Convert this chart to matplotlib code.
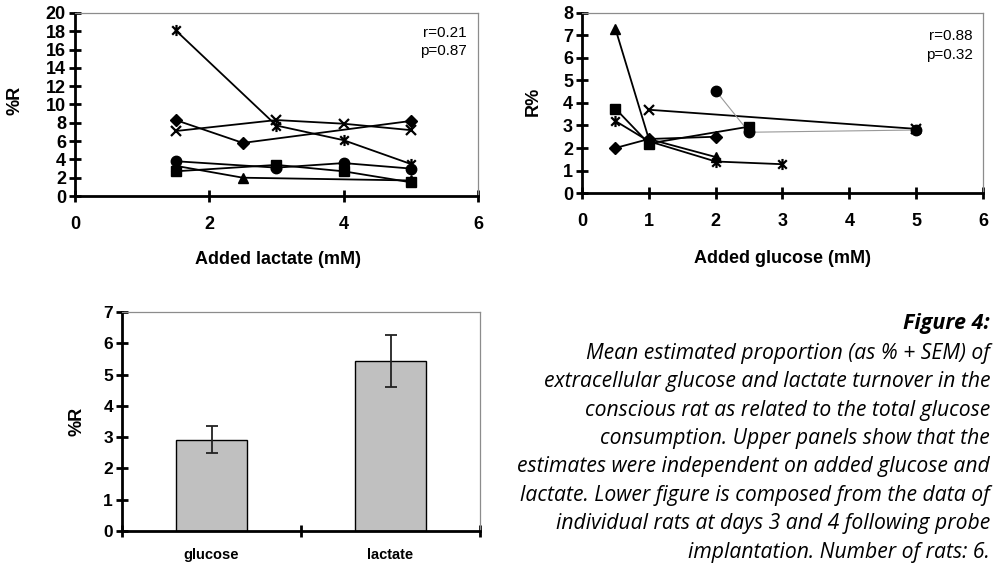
import numpy as np
import matplotlib
matplotlib.use("Agg")
import matplotlib.pyplot as plt
from matplotlib.path import Path

plt.rcParams['font.family'] = ['Liberation Sans', 'DejaVu Sans']
plt.rcParams['font.weight'] = 'bold'
plt.rcParams['axes.labelweight'] = 'bold'

# left panel: %R against added lactate, one series per rat
lac_x = {
    'star': [1.5, 3, 4, 5],
    'diamond': [1.5, 2.5, 5],
    'x': [1.5, 3, 4, 5],
    'circle': [1.5, 3, 4, 5],
    'square': [1.5, 3, 4, 5],
    'triangle': [1.5, 2.5, 5],
}
lac_y = {
    'star': [18.1, 7.7, 6.1, 3.5],
    'diamond': [8.3, 5.8, 8.2],
    'x': [7.1, 8.3, 7.9, 7.2],
    'circle': [3.8, 3.1, 3.6, 3.0],
    'square': [2.7, 3.4, 2.7, 1.5],
    'triangle': [3.3, 2.0, 1.7],
}

# right panel: R% against added glucose
glu_x = {
    'triangle': [0.5, 1, 2],
    'square': [0.5, 1, 2.5],
    'star': [0.5, 1, 2, 3],
    'diamond': [0.5, 1, 2],
    'x': [1, 5],
    'circle': [2, 2.5, 5],
}
glu_y = {
    'triangle': [7.3, 2.4, 1.6],
    'square': [3.75, 2.2, 2.95],
    'star': [3.2, 2.3, 1.4, 1.28],
    'diamond': [2.0, 2.4, 2.5],
    'x': [3.7, 2.85],
    'circle': [4.55, 2.7, 2.8],
}

# bottom panel: mean %R + SEM
bar_names = ['glucose', 'lactate']
bar_mean = [2.92, 5.43]
bar_sem = [0.43, 0.82]

caption = ("Mean estimated proportion (as % + SEM) of\n"
           "extracellular glucose and lactate turnover in the\n"
           "conscious rat as related to the total glucose\n"
           "consumption. Upper panels show that the\n"
           "estimates were independent on added glucose and\n"
           "lactate. Lower figure is composed from the data of\n"
           "individual rats at days 3 and 4 following probe\n"
           "implantation. Number of rats: 6.")

# excel style star: x with a vertical bar
star = Path([(-1, -1), (1, 1), (-1, 1), (1, -1), (0, -1.3), (0, 1.3)],
            [Path.MOVETO, Path.LINETO, Path.MOVETO, Path.LINETO, Path.MOVETO, Path.LINETO])
markers = {'star': (star, 8), 'diamond': ('D', 6), 'x': ('x', 7.5),
           'circle': ('o', 7.5), 'square': ('s', 6.5), 'triangle': ('^', 7.5)}


def style_axes(ax):
    for s in ['top', 'right']:
        ax.spines[s].set_color('#8c8c8c')
        ax.spines[s].set_linewidth(0.9)
    for s in ['left', 'bottom']:
        ax.spines[s].set_color('black')
        ax.spines[s].set_linewidth(2.0)
    ax.tick_params(direction='inout', length=9, width=2.0, color='black')


def draw_series(ax, xs, ys, gray=()):
    for k in xs:
        m, ms = markers[k]
        lc = '#999999' if k in gray else 'black'
        lw = 0.8 if k in gray else 1.3
        ax.plot(xs[k], ys[k], color=lc, lw=lw, zorder=2)
        ax.plot(xs[k], ys[k], ls='none', marker=m, ms=ms, color='black',
                mec='black', mew=1.6 if k in ('star', 'x') else 1, zorder=3)


fig = plt.figure(figsize=(9.93, 5.67), dpi=100)

# lactate panel
ax1 = fig.add_axes([0.0755, 0.6543, 0.4058, 0.3228])
draw_series(ax1, lac_x, lac_y)
ax1.set_xlim(0, 6)
ax1.set_ylim(0, 20)
ax1.set_xticks([0, 2, 4, 6])
ax1.set_yticks(np.arange(0, 21, 2))
style_axes(ax1)
ax1.tick_params(axis='y', labelsize=13, pad=2)
ax1.tick_params(axis='x', labelsize=13, pad=10)
ax1.set_xlabel('Added lactate (mM)', fontsize=13)
ax1.xaxis.set_label_coords(0.504, -0.30)
ax1.set_ylabel('%R', fontsize=13)
ax1.yaxis.set_label_coords(-0.127, 0.52)
ax1.text(0.972, 0.84, 'r=0.21\np=0.87', transform=ax1.transAxes, ha='right', va='center',
         fontsize=11, fontweight='normal', linespacing=1.4)

# glucose panel
ax2 = fig.add_axes([0.5861, 0.6596, 0.4038, 0.3175])
draw_series(ax2, glu_x, glu_y, gray=('circle',))
ax2.set_xlim(0, 6)
ax2.set_ylim(0, 8)
ax2.set_xticks(range(0, 7))
ax2.set_yticks(range(0, 9))
style_axes(ax2)
ax2.tick_params(axis='y', labelsize=13, pad=2)
ax2.tick_params(axis='x', labelsize=13, pad=10)
ax2.set_xlabel('Added glucose (mM)', fontsize=13)
ax2.xaxis.set_label_coords(0.499, -0.317)
ax2.set_ylabel('R%', fontsize=13)
ax2.yaxis.set_label_coords(-0.10, 0.51)
ax2.text(0.975, 0.82, 'r=0.88\np=0.32', transform=ax2.transAxes, ha='right', va='center',
         fontsize=11, fontweight='normal', linespacing=1.4)

# bar panel
ax3 = fig.add_axes([0.1229, 0.0635, 0.3605, 0.3862])
pos = np.arange(len(bar_names))
ax3.bar(pos, bar_mean, width=0.4, color='#c0c0c0', edgecolor='black', linewidth=1.0, zorder=2)
ax3.errorbar(pos, bar_mean, yerr=bar_sem, fmt='none', ecolor='#222222', elinewidth=1.3,
             capsize=4.5, capthick=1.3, zorder=3)
ax3.set_xlim(-0.5, 1.5)
ax3.set_ylim(0, 7)
ax3.set_yticks(range(0, 8))
ax3.set_xticks([-0.5, 0.5, 1.5])
ax3.set_xticklabels([])
ax3.set_xticks(pos, bar_names, minor=True)
style_axes(ax3)
ax3.tick_params(axis='y', labelsize=12.5, pad=2)
ax3.tick_params(axis='x', which='minor', length=0, pad=12, labelsize=10.5)
ax3.set_ylabel('%R', fontsize=13)
ax3.yaxis.set_label_coords(-0.103, 0.502)

# caption
fig.text(0.997, 1 - 323 / 567, 'Figure 4:', ha='right', va='center', fontsize=15.5,
         family='Open Sans', style='italic', fontweight='bold')
fig.text(0.997, 1 - 343 / 567, caption, ha='right', va='top', fontsize=15.2,
         family='Open Sans', style='italic', fontweight='normal', linespacing=1.46)

fig.savefig('out.png', dpi=100)
